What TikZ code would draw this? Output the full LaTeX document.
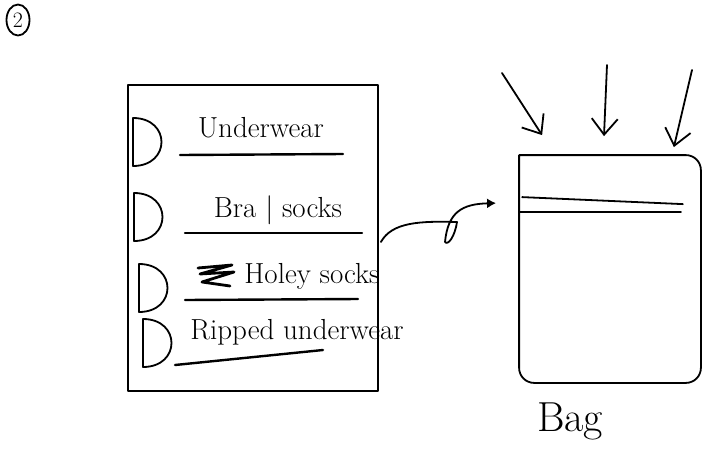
\documentclass[tikz,border=0pt]{standalone}
\usetikzlibrary{arrows.meta,positioning,calc,shapes.geometric}
\begin{document}
\begin{tikzpicture}[x=1pt,y=-1pt,line width=1.8pt,line cap=round,line join=round,
 hand/.style={font=\fontsize{29}{32}\selectfont,inner sep=1pt},
 uline/.style={line width=2.4pt},
 chk/.style={line width=1.8pt},
 drop/.style={-{Straight Barb[length=16pt,width=26pt]}}]
\useasboundingbox (0,0) rectangle (710,475);
\node[draw,ellipse,minimum width=23pt,minimum height=31pt,inner sep=0pt,font=\fontsize{22}{24}\selectfont] (num) at (18,20) {2};
% checklist
\node[draw,minimum width=250pt,minimum height=306pt,inner sep=0pt] (list) at (253,238) {};
\node[hand] (t1) at (261,128) {Underwear};
\node[hand] (t2) at (278,210) {Bra | socks};
\node[hand] (t3) at (312,276) {Holey socks};
\node[hand] (t4) at (297,332) {Ripped underwear};
\draw[line width=2.8pt] (198,268) -- (232,265) -- (200,274) -- (234,272) -- (202,282) -- (230,286);
\draw[uline] (180,155) -- (343,154);
\draw[uline] (185,233) -- (362,233);
\draw[uline] (185,300) -- (358,299);
\draw[uline] (175,365) -- (323,350);
\foreach \x/\y in {133/142,134/217,139/288,143/343}
 \draw[chk] (\x,\y-24) .. controls (\x+38,\y-24) and (\x+38,\y+24) .. (\x,\y+24) -- cycle;
% bag
\node[minimum width=180pt,minimum height=226pt,inner sep=0pt] (bag) at (610,269) {};
\draw[rounded corners=15pt] (bag.north west) -- (bag.north east) -- (bag.south east) -- (bag.south west) -- (bag.north west);
\draw ($(bag.north west)+(3,42)$) -- ($(bag.north east)+(-18,49)$);
\draw ($(bag.north west)+(0,57)$) -- ($(bag.north east)+(-20,57)$);
\node[hand,font=\fontsize{42}{44}\selectfont,below right=18pt and 16pt of bag.south west] (lbl) {Bag};
\coordinate (d1) at (502,73);\coordinate (d2) at (607,65);\coordinate (d3) at (692,70);
\draw[drop] (d1) -- ($(bag.north west)+(23,-20)$);
\draw[drop] (d2) -- ($(bag.north)+(-6,-19)$);
\draw[drop] (d3) -- ($(bag.north east)+(-27,-8)$);
\coordinate (tip) at ($(bag.north west)+(-23,48)$);
\draw[-{Latex[length=9pt,width=10pt]}] ($(list.east)+(2,4)$) .. controls (392,222) and (420,221) .. (457,222)
 .. controls (455,236) and (448,246) .. (445,242) .. controls (448,212) and (462,204) .. (tip);
\end{tikzpicture}
\end{document}
